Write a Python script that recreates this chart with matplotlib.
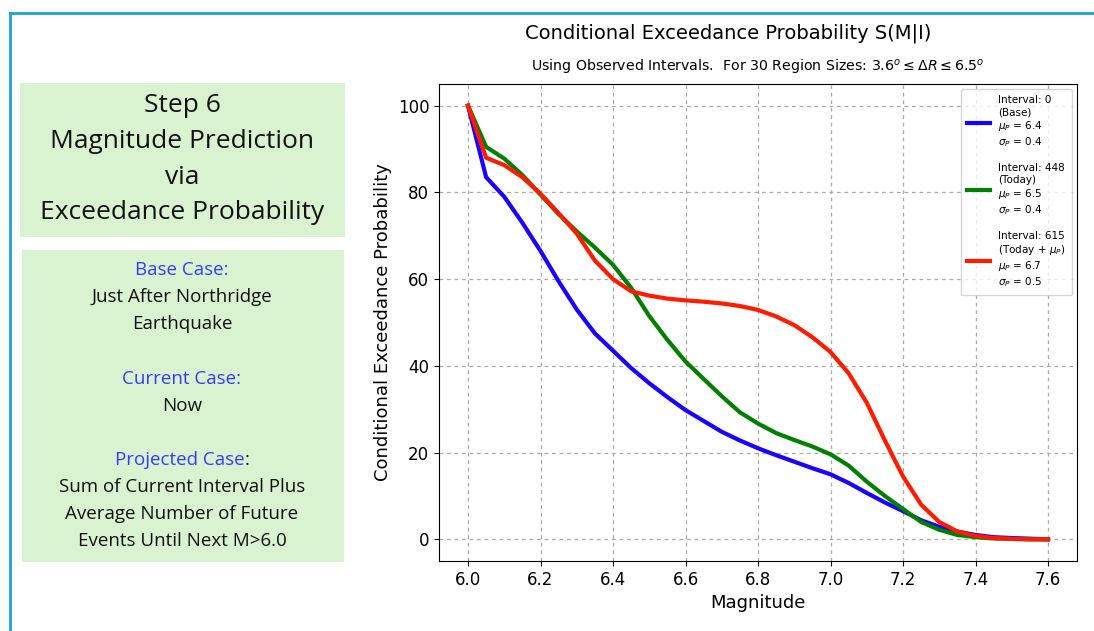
import matplotlib
matplotlib.use("Agg")
import matplotlib.pyplot as plt
from matplotlib.patches import Rectangle
from matplotlib.lines import Line2D

magnitude = [6.0, 6.05, 6.1, 6.15, 6.2, 6.25, 6.3, 6.35, 6.4, 6.45, 6.5, 6.55, 6.6,
             6.65, 6.7, 6.75, 6.8, 6.85, 6.9, 6.95, 7.0, 7.05, 7.1, 7.15, 7.2, 7.25,
             7.3, 7.35, 7.4, 7.45, 7.5, 7.55, 7.6]
base = [100, 83.5, 79, 73, 66.5, 59.5, 53, 47.5, 43.5, 39.5, 36, 32.8, 29.8,
        27.3, 24.8, 22.8, 21.0, 19.4, 17.9, 16.4, 15.0, 13.0, 10.7, 8.5, 6.5, 4.4,
        2.9, 1.8, 1.0, 0.5, 0.3, 0.15, 0.0]
today = [100, 90.5, 87.8, 84, 79.5, 75, 71, 67.3, 63.3, 58, 51.5, 46, 41,
         37, 33, 29.3, 26.7, 24.5, 22.9, 21.4, 19.6, 17, 13.3, 10, 7, 4,
         2.2, 1.0, 0.5, 0.2, 0.1, 0.0, 0.0]
projected = [100, 88, 86.3, 83.5, 79.7, 75.2, 70.5, 64.3, 60, 57.2, 56.2, 55.5, 55.1,
             54.8, 54.4, 53.8, 52.9, 51.4, 49.4, 46.6, 43.2, 38.3, 31.5, 22.8, 14.5, 8,
             4, 1.8, 0.8, 0.3, 0.1, 0.0, 0.0]

labels = [
    "Interval: 0\n(Base)\n$\\mu_P$ = 6.4\n$\\sigma_P$ = 0.4",
    "Interval: 448\n(Today)\n$\\mu_P$ = 6.5\n$\\sigma_P$ = 0.4",
    "Interval: 615\n(Today + $\\mu_P$)\n$\\mu_P$ = 6.7\n$\\sigma_P$ = 0.5",
]
colors = ["#1a00ff", "green", "#ff1a00"]
x_ticks = [6.0, 6.2, 6.4, 6.6, 6.8, 7.0, 7.2, 7.4, 7.6]
y_ticks = [0, 20, 40, 60, 80, 100]

fig = plt.figure(figsize=(10.94, 6.31), dpi=100)
W, H = 1094, 631

def fx(px):
    return px / W

def fy(py):
    return 1 - py / H

# outer blue frame (slide border)
fig.add_artist(Line2D([fx(10), fx(10)], [fy(13), 0], color="#1ea0dc", lw=2.0))
fig.add_artist(Line2D([fx(10), 1], [fy(13), fy(13)], color="#1ea0dc", lw=2.0))

# left green boxes
box_color = "#d9f2d0"
fig.add_artist(Rectangle((fx(20), fy(237)), fx(325), (237 - 83) / H,
                         facecolor=box_color, edgecolor="none"))
fig.add_artist(Rectangle((fx(22), fy(562)), fx(322), (562 - 250) / H,
                         facecolor=box_color, edgecolor="none"))

side_font = ["Open Sans", "DejaVu Sans"]
side_weight = "medium"
cx = fx(182)
for txt, py in [("Step 6", 106), ("Magnitude Prediction", 141), ("via", 177),
                ("Exceedance Probability", 213)]:
    fig.text(cx, fy(py), txt, ha="center", va="center", fontsize=19,
             family=side_font, weight=side_weight, color="#111111")

blue_txt = "#3a3aff"
lines2 = [("Base Case:", 270, blue_txt), ("Just After Northridge", 297, "#111111"),
          ("Earthquake", 324, "#111111"), ("Current Case:", 379, blue_txt),
          ("Now", 406, "#111111"),
          ("Sum of Current Interval Plus", 487, "#111111"),
          ("Average Number of Future", 514, "#111111"),
          ("Events Until Next M>6.0", 541, "#111111")]
for txt, py, c in lines2:
    fig.text(cx, fy(py), txt, ha="center", va="center", fontsize=13.5,
             family=side_font, weight=side_weight, color=c)

# "Projected Case" in blue followed by a black colon, centred as one string
renderer = fig.canvas.get_renderer()
probe = fig.text(0, 0, "Projected Case:", fontsize=13.5, family=side_font,
                 weight=side_weight)
total_w = probe.get_window_extent(renderer=renderer).width / fig.dpi / fig.get_figwidth()
probe.remove()
pc = fig.text(cx - total_w / 2, fy(460), "Projected Case", ha="left", va="center",
              fontsize=13.5, family=side_font, weight=side_weight, color=blue_txt)
pc_bb = pc.get_window_extent(renderer=renderer)
fig.text(pc_bb.x1 / fig.dpi / fig.get_figwidth(), fy(460), ":", ha="left", va="center",
         fontsize=13.5, family=side_font, weight=side_weight, color="#111111")

# main chart
ax = fig.add_axes([fx(439), fy(561), fx(1077 - 439), (561 - 84) / H])
for vals, lab, c in zip([base, today, projected], labels, colors):
    ax.plot(magnitude, vals, color=c, lw=3, label=lab)

ax.set_xticks(x_ticks)
ax.set_yticks(y_ticks)
ax.set_xlim(5.92, 7.68)
ax.set_ylim(-5, 105)
ax.tick_params(labelsize=12)
ax.grid(True, linestyle=(0, (3, 3)), color="#aaaaaa", linewidth=0.9)
ax.set_xlabel("Magnitude", fontsize=13)
ax.set_ylabel("Conditional Exceedance Probability", fontsize=13)
ax.set_title("Using Observed Intervals.  For 30 Region Sizes: $3.6^o \\leq \\Delta R \\leq 6.5^o$",
             fontsize=10.2, pad=9)
fig.text(fx(728), fy(33), "Conditional Exceedance Probability S(M|I)", ha="center",
         va="center", fontsize=14)
leg = ax.legend(loc="upper right", fontsize=7.5, labelspacing=1.4, handlelength=2.2,
                borderpad=0.6, framealpha=0.8)

fig.savefig("out.png", dpi=100)
